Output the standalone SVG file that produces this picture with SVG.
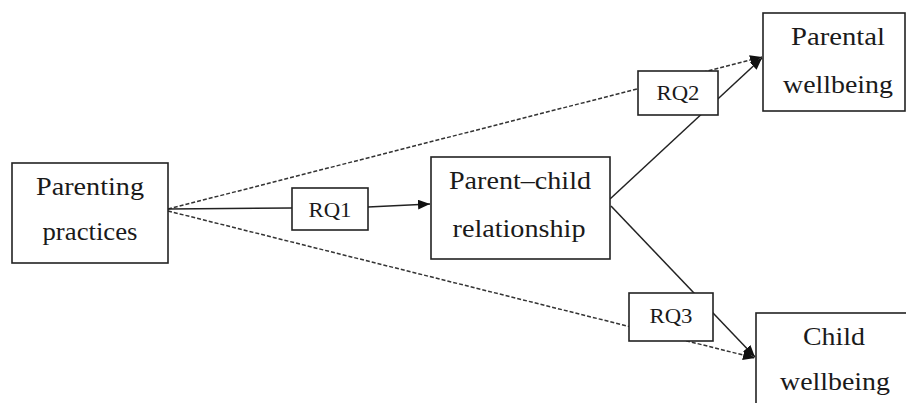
<svg xmlns="http://www.w3.org/2000/svg" width="906" height="403" viewBox="0 0 906 403">
<style>
.box{fill:#fff;stroke:#222;stroke-width:1.6}
.t{font-family:"Liberation Serif","DejaVu Serif",serif;font-size:25px;fill:#1a1a1a;text-anchor:middle}
.rq{font-family:"Liberation Serif","DejaVu Serif",serif;font-size:21px;fill:#1a1a1a;text-anchor:middle}
.ln{fill:none;stroke:#222;stroke-width:1.5}
.dash{fill:none;stroke:#333;stroke-width:1.5;stroke-dasharray:4 2}
</style>
<defs>
<marker id="ah" viewBox="0 0 12 10" refX="12" refY="5" markerWidth="12" markerHeight="10" markerUnits="userSpaceOnUse" orient="auto">
<path d="M0,0 L12,5 L0,10 z" fill="#111"/>
</marker>
</defs>
<rect width="906" height="403" fill="#fff"/>
<g id="connectors">
<line class="dash" x1="168" y1="209" x2="762" y2="57" marker-end="url(#ah)"/>
<line class="dash" x1="168" y1="211" x2="755" y2="358" marker-end="url(#ah)"/>
<line class="ln" x1="168" y1="209" x2="292" y2="208"/>
<line class="ln" x1="368" y1="207" x2="430" y2="204" marker-end="url(#ah)"/>
<line class="ln" x1="610" y1="199" x2="762" y2="58" marker-end="url(#ah)"/>
<line class="ln" x1="611" y1="206" x2="755" y2="357" marker-end="url(#ah)"/>
</g>
<g id="parenting-practices">
<rect class="box" x="12" y="163" width="156" height="100"/>
<text class="t" x="90" y="195" textLength="108" lengthAdjust="spacingAndGlyphs">Parenting</text>
<text class="t" x="90" y="240" textLength="95" lengthAdjust="spacingAndGlyphs">practices</text>
</g>
<g id="rq1">
<rect class="box" x="292" y="188" width="76" height="42"/>
<text class="rq" x="330" y="217" textLength="43" lengthAdjust="spacingAndGlyphs">RQ1</text>
</g>
<g id="parent-child-relationship">
<rect class="box" x="431" y="157" width="179" height="102"/>
<text class="t" x="520" y="189" textLength="142" lengthAdjust="spacingAndGlyphs">Parent–child</text>
<text class="t" x="519" y="237" textLength="133" lengthAdjust="spacingAndGlyphs">relationship</text>
</g>
<g id="rq2">
<rect class="box" x="638" y="71" width="80" height="44"/>
<text class="rq" x="678" y="100" textLength="43" lengthAdjust="spacingAndGlyphs">RQ2</text>
</g>
<g id="rq3">
<rect class="box" x="629" y="293" width="84" height="48"/>
<text class="rq" x="671" y="323" textLength="43" lengthAdjust="spacingAndGlyphs">RQ3</text>
</g>
<g id="parental-wellbeing">
<rect class="box" x="763" y="13" width="142" height="98"/>
<text class="t" x="838" y="45" textLength="94" lengthAdjust="spacingAndGlyphs">Parental</text>
<text class="t" x="838" y="93" textLength="110" lengthAdjust="spacingAndGlyphs">wellbeing</text>
</g>
<g id="child-wellbeing">
<rect class="box" x="756" y="313" width="170" height="110"/>
<text class="t" x="834" y="345" textLength="62" lengthAdjust="spacingAndGlyphs">Child</text>
<text class="t" x="835" y="390" textLength="110" lengthAdjust="spacingAndGlyphs">wellbeing</text>
</g>
</svg>
